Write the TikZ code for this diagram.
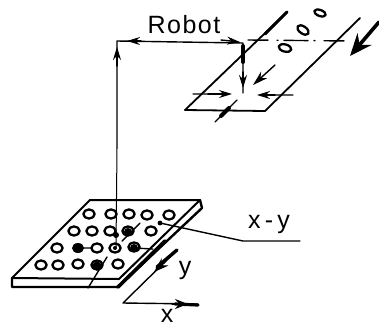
\documentclass[tikz,border=0pt]{standalone}
\usepackage{fontspec}
\setmainfont{Liberation Sans}
\usetikzlibrary{arrows.meta}
\tikzset{
hole/.style={line width=2.3pt},
arr/.style={-{Stealth[length=13pt,width=8pt]}},
lab/.style={font=\fontsize{25}{27}\selectfont,inner sep=0pt}
}
\begin{document}
\begin{tikzpicture}[x=1pt,y=-1pt,line width=1.4pt,line join=round,line cap=round]
\useasboundingbox (0,0) rectangle (379,327);
\path
(117,148) coordinate (R_0)
(117,41) coordinate (R_1)
(243,43) coordinate (R_2)
(243,93) coordinate (R_3)
(287,12) coordinate (A)
(185,110) coordinate (B)
(265,111) coordinate (C)
(360,18) coordinate (D)
(90,200) coordinate (P)
(200,200) coordinate (Q)
(119,279) coordinate (S)
(12,278) coordinate (T)
(12,287) coordinate (T_1)
(118,287) coordinate (S_1)
(202,208) coordinate (Q_1)
(123,303) coordinate (O)
(177,250) coordinate (Y)
(198,304) coordinate (X)
;
% gantry
\draw (R_0)--(R_1)--(R_2)--(R_3);
\draw[arr] (117,66)--(117,47);
\draw[arr] (141,41)--(127,41);
\draw[arr] (221,40)--(240,42);
\draw[arr] (243,72)--(243,88);
\draw[line width=4pt] (243,46)--(243,62);
% feeder
\draw[line width=1.8pt] (B)--(C)--(D);
\draw[line width=1.8pt] (A)--(B);
\draw[line width=3pt] (A)--(265,34);
\draw[dash pattern=on 20pt off 9pt on 1pt off 6pt on 24pt off 6pt on 1pt off 9pt] (248,40)--(350,41);
\draw[-{Stealth[length=22pt,width=18pt]},line width=3.6pt] (379,22)--(350,56);
\draw[-{Stealth[length=15pt,width=9pt]}] (275,65)--(253,85);
\draw (193,94)--(213,94) (293,95)--(272,95) (215,122)--(237,100);
\draw[arr] (208,94)--(232,94);
\draw[arr] (275,95)--(257,95);
\draw[line width=4pt] (221,116)--(229,108);
\draw[hole] (320,13) ellipse[x radius=6,y radius=3,rotate=-20];
\draw[hole] (303,30) ellipse[x radius=6.5,y radius=3.6,rotate=-35];
\draw[hole] (285,48) ellipse[x radius=6.5,y radius=3.6,rotate=-15];
% plate
\draw[line width=2pt] (P)--(Q)--(S)--(T)--cycle;
\draw[line width=2.4pt] (T)--(T_1)--(S_1)--(Q_1)--(Q);
\draw[line width=3.6pt] (S_1)--(165,241);
\foreach \x/\y in {89/214,111/214,129/214,147/215,169/215,
74/231,92/231,110/231,128/231,151/231,
57/248,97/248,115/248,134/247,
41/265,58/265,78/264,97/265,118/264}
\draw[hole] (\x,\y) ellipse[x radius=5.6,y radius=4.6];
% tappets
\fill (78,248) ellipse[x radius=6,y radius=5] (128,232) circle(4pt) (97,266) circle(4.5pt) (134,248) circle(4pt);
\fill (115,248) circle(2pt) (116,235) circle(3pt);
\draw (122,241)--(140,223) (88,288)--(107,257) (78,248)--(92,248) (134,248)--(153,249);
\draw[line width=1pt] (R_0)--(116,247);
\fill (160,223) circle(2.4pt);
% leader
\draw (160,223)--(243,241)--(300,241);
% axes
\draw (Y)--(O)--(X);
\draw[line width=3.4pt] (157,267)--(177,250);
\draw[-{Stealth[length=15pt,width=10pt]}] (166,261)--(154,272);
\draw[line width=3.2pt] (175,304)--(198,305);
\draw[-{Stealth[length=13pt,width=10pt]}] (172,304)--(188,304);
\node[lab] (robot) at (184,25) {\addfontfeature{LetterSpace=6}Robot};
\node[lab] (xy) at (269,224) {x\,-\,y};
\node[lab] (ylab) at (185,270) {y};
\node[lab] (xlab) at (167,316) {x};
\end{tikzpicture}
\end{document}
